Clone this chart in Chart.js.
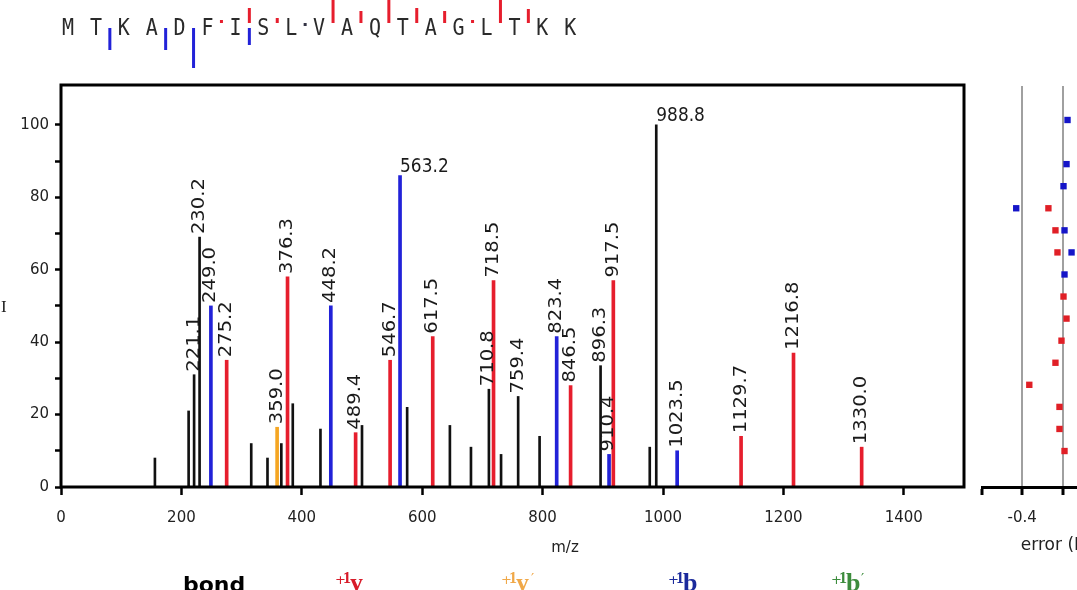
<!DOCTYPE html>
<html><head><meta charset="utf-8">
<script src="https://cdn.jsdelivr.net/npm/chart.js@4.4.1/dist/chart.umd.min.js"></script>
<style>
html,body{margin:0;padding:0;background:#fff;overflow:hidden;width:1077px;height:590px;}
#main{position:absolute;left:0;top:0;}
#err{position:absolute;left:960px;top:0;}
</style></head><body>
<canvas id="main" width="1077" height="590"></canvas>
<canvas id="err" width="200" height="590"></canvas>
<script>
// ---------- data ----------
const bondMz  = [156, 212, 221.1, 230.2, 316, 343, 366, 385, 431, 500, 575, 646, 681, 710.8, 731, 759.4, 795, 896.3, 978, 988.8];
const bondInt = [8, 21, 31, 69, 12, 8, 12, 23, 16, 17, 22, 17, 11, 27, 9, 25, 14, 33.5, 11, 100];
const bondLbl = ['', '', '221.1', '230.2', '', '', '', '', '', '', '', '', '', '710.8', '', '759.4', '', '896.3', '', '988.8'];

const yMz  = [275.2, 376.3, 489.4, 546.7, 617.5, 718.5, 846.5, 917.5, 1129.7, 1216.8, 1330.0];
const yInt = [35, 58, 15, 35, 41.5, 57, 28, 57, 14, 37, 11];
const yLbl = ['275.2', '376.3', '489.4', '546.7', '617.5', '718.5', '846.5', '917.5', '1129.7', '1216.8', '1330.0'];

const yStarMz  = [359.0];
const yStarInt = [16.5];
const yStarLbl = ['359.0'];

const bMz  = [249.0, 448.2, 563.2, 823.4, 910.4, 1023.5];
const bInt = [50, 50, 86, 41.5, 9, 10];
const bLbl = ['249.0', '448.2', '563.2', '823.4', '910.4', '1023.5'];

const xTicks = [0, 200, 400, 600, 800, 1000, 1200, 1400];
const yTicks = [0, 10, 20, 30, 40, 50, 60, 70, 80, 90, 100];

// sequence and fragment markers (cleavage k lies between residue k and k+1)
const seqLetters = ['M','T','K','A','D','F','I','S','L','V','A','Q','T','A','G','L','T','K','K'];
const seqB   = [0, 22, 0, 22, 40, 0, 17, 0, 0, 0, 0, 0, 0, 0, 0, 0, 0, 0];
const seqY   = [0, 0, 0, 0, 0, 3, 15, 5, 0, 26, 12, 26, 15, 12, 3, 26, 14, 0];
const seqDot = [0, 0, 0, 0, 0, 0, 0, 0, 1, 0, 0, 0, 0, 0, 0, 0, 0, 0];

// error panel
const bErrRow = [0, 2, 3, 4, 5, 6, 7];
const bErr    = [0.05, 0.04, 0.01, -0.46, 0.02, 0.09, 0.02];
const yErrRow = [4, 5, 6, 8, 9, 10, 11, 12, 13, 14, 15];
const yErr    = [-0.14, -0.07, -0.05, 0.01, 0.04, -0.01, -0.07, -0.33, -0.03, -0.03, 0.02];
const errTicks = [-0.8, -0.4, 0, 0.4, 0.8];

// legend
const legendItems = [
  {text: 'y', color: '#d81c2a', prime: false},
  {text: 'y', color: '#f0a848', prime: true},
  {text: 'b', color: '#1b2a9c', prime: false},
  {text: 'b', color: '#3c8c3c', prime: true}
];

const RED = '#e61e2d', BLUE = '#2222d8', ORANGE = '#f5a623', BLACK = '#111';
const STRETCH = 1.15;

function pts(xs, ys){ return xs.map((x,i)=>({x:x, y:ys[i]})); }

const peakLabelPlugin = {
  id: 'peakLabels',
  afterDatasetsDraw(chart){
    const ctx = chart.ctx, xs = chart.scales.x, ys = chart.scales.y;
    ctx.save();
    ctx.fillStyle = '#1a1a1a';
    ctx.font = '17px "DejaVu Sans"';
    chart.data.datasets.forEach(ds => {
      (ds.peakLabels || []).forEach((t, i) => {
        if (!t) return;
        const d = ds.data[i];
        const px = xs.getPixelForValue(d.x), py = ys.getPixelForValue(d.y);
        ctx.save();
        if (d.y > 80) {
          ctx.translate(px, py - 4);
          ctx.scale(1, STRETCH);
          ctx.textAlign = 'left'; ctx.textBaseline = 'alphabetic';
          ctx.fillText(t, 0, 0);
        } else {
          ctx.translate(px, py - 3);
          ctx.scale(1, STRETCH);
          ctx.rotate(-Math.PI/2);
          ctx.textAlign = 'left'; ctx.textBaseline = 'middle';
          ctx.fillText(t, 0, 0);
        }
        ctx.restore();
      });
    });
    ctx.restore();
  },
  afterDraw(chart){
    const ctx = chart.ctx, a = chart.chartArea;
    ctx.save();
    // frame
    ctx.strokeStyle = '#000'; ctx.lineWidth = 3;
    ctx.strokeRect(a.left, a.top, a.right - a.left, a.bottom - a.top);
    // axis titles
    ctx.fillStyle = '#222';
    ctx.font = '15px "DejaVu Sans"';
    ctx.textAlign = 'center'; ctx.textBaseline = 'middle';
    ctx.fillText('m/z', 565, 548);
    ctx.font = '17px "Liberation Serif"';
    ctx.textAlign = 'left';
    ctx.fillText('I', 1, 308);
    // sequence
    const x0 = 68, dx = 27.9;
    ctx.font = '20px "DejaVu Sans Mono"';
    ctx.fillStyle = '#2a2a2a';
    ctx.textAlign = 'center'; ctx.textBaseline = 'alphabetic';
    seqLetters.forEach((L, i) => {
      ctx.save(); ctx.translate(x0 + dx*i, 35); ctx.scale(1, STRETCH); ctx.fillText(L, 0, 0); ctx.restore();
    });
    for (let k = 0; k < seqB.length; k++) {
      const bx = x0 + dx*k + dx/2;
      if (seqY[k]) { ctx.fillStyle = RED; ctx.fillRect(bx - 1.5, 23 - seqY[k], 3, seqY[k]); }
      if (seqB[k]) { ctx.fillStyle = BLUE; ctx.fillRect(bx - 1.5, 28, 3, seqB[k]); }
      if (seqDot[k]) { ctx.fillStyle = '#334'; ctx.fillRect(bx - 1.5, 23, 3, 3); }
    }
    // legend
    ctx.textAlign = 'left'; ctx.textBaseline = 'alphabetic';
    ctx.fillStyle = '#000';
    ctx.font = 'bold 22px "DejaVu Sans"';
    ctx.fillText('bond', 183, 592);
    const lx = [335, 501, 668, 831];
    legendItems.forEach((it, i) => {
      const x = lx[i];
      ctx.fillStyle = it.color;
      ctx.font = '13px "DejaVu Sans"';
      ctx.fillText('+', x, 584);
      ctx.font = 'bold 16px "Liberation Serif"';
      ctx.fillText('1', x + 8, 583);
      ctx.font = 'bold 26px "Liberation Serif"';
      ctx.fillText(it.text, x + 15, 591);
      if (it.prime) { ctx.font = '14px "DejaVu Sans"'; ctx.fillText('\u2032', x + 30, 583); }
    });
    ctx.restore();
  }
};

new Chart(document.getElementById('main'), {
  type: 'bar',
  data: { datasets: [
    {data: pts(bondMz, bondInt), backgroundColor: BLACK, barThickness: 2, grouped: false, peakLabels: bondLbl},
    {data: pts(yMz, yInt), backgroundColor: RED, barThickness: 3, grouped: false, peakLabels: yLbl},
    {data: pts(yStarMz, yStarInt), backgroundColor: ORANGE, barThickness: 3, grouped: false, peakLabels: yStarLbl},
    {data: pts(bMz, bInt), backgroundColor: BLUE, barThickness: 3, grouped: false, peakLabels: bLbl}
  ]},
  options: {
    responsive: false, animation: false, devicePixelRatio: 1,
    layout: {padding: {left: 0, right: 113, top: 85, bottom: 33}},
    plugins: {legend: {display: false}, tooltip: {enabled: false}},
    scales: {
      x: {
        type: 'linear', min: 0, max: 1500, offset: false,
        afterBuildTicks(s){ s.ticks = xTicks.map(v => ({value: v})); },
        afterFit(s){ s.height = 70; },
        ticks: {font: {family: 'DejaVu Sans', size: 15}, color: '#222', padding: 14, maxRotation: 0, autoSkip: false,
                callback: v => String(v)},
        grid: {offset: false, drawOnChartArea: false, tickLength: 8, tickColor: '#000', tickWidth: 2.5},
        border: {display: false}
      },
      y: {
        type: 'linear', min: 0, max: 111,
        afterBuildTicks(s){ s.ticks = yTicks.map(v => ({value: v})); },
        afterFit(s){ s.width = 61; },
        ticks: {font: {family: 'DejaVu Sans', size: 15}, color: '#222', padding: 6, autoSkip: false,
                callback: v => (v % 20 === 0 ? String(v) : '')},
        grid: {offset: false, drawOnChartArea: false, tickLength: 6, tickColor: '#000', tickWidth: 2.5},
        border: {display: false}
      }
    }
  },
  plugins: [peakLabelPlugin]
});

new Chart(document.getElementById('err'), {
  type: 'scatter',
  data: { datasets: [
    {data: bErrRow.map((r,i)=>({x: bErr[i], y: r})), backgroundColor: '#1515c8', borderColor: '#1515c8', pointStyle: 'rect', pointRadius: 4.5, borderWidth: 0},
    {data: yErrRow.map((r,i)=>({x: yErr[i], y: r})), backgroundColor: '#e01f26', borderColor: '#e01f26', pointStyle: 'rect', pointRadius: 4.5, borderWidth: 0}
  ]},
  options: {
    responsive: false, animation: false, devicePixelRatio: 1,
    layout: {padding: {left: 22, right: 17, top: 86, bottom: 33}},
    plugins: {legend: {display: false}, tooltip: {enabled: false}},
    scales: {
      x: {
        type: 'linear', min: -0.8, max: 0.8,
        afterBuildTicks(s){ s.ticks = errTicks.map(v => ({value: v})); },
        afterFit(s){ s.height = 70; },
        ticks: {font: {family: 'DejaVu Sans', size: 15}, color: '#222', padding: 14, maxRotation: 0, autoSkip: false,
                callback: v => (Math.abs(Math.abs(v) - 0.4) < 1e-9 ? v.toFixed(1) : '')},
        grid: {drawOnChartArea: true, lineWidth: 2, tickLength: 8, tickColor: '#000', tickWidth: 3,
               color: c => (c.tick && Math.abs(c.tick.value) < 0.5 ? '#a0a0a0' : 'rgba(0,0,0,0)')},
        border: {display: true, color: '#000', width: 3},
        title: {display: true, text: 'error (Da)', font: {family: 'DejaVu Sans', size: 17}, color: '#222', padding: {top: 0, bottom: 1}}
      },
      y: {display: false, type: 'linear', reverse: true, min: -1.54, max: 16.63}
    }
  }
});
</script>
</body></html>
